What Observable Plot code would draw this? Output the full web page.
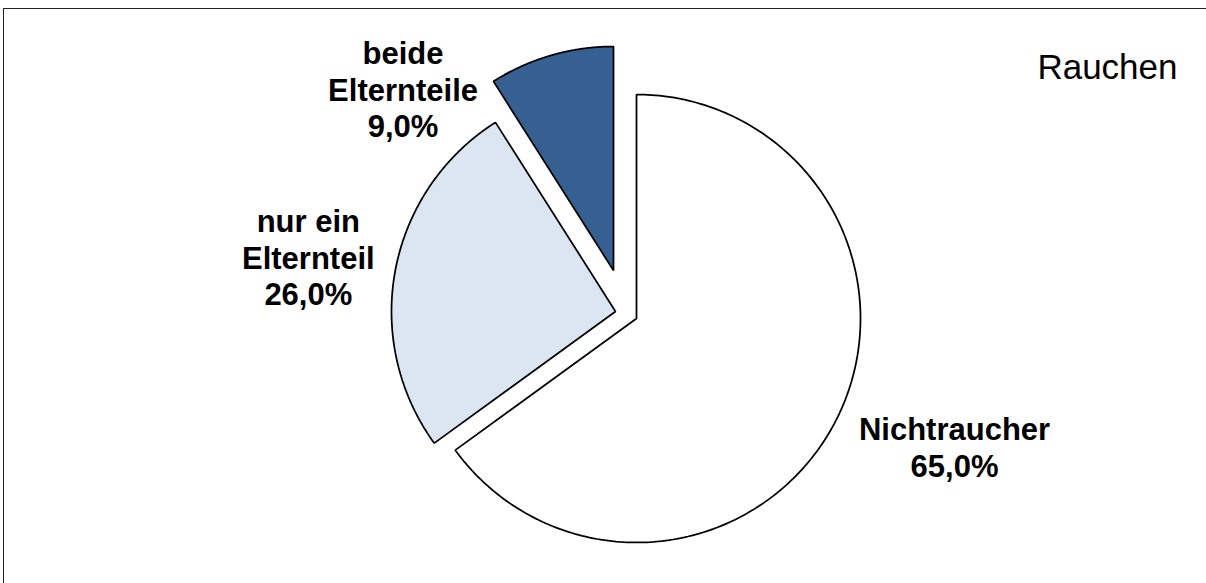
<!DOCTYPE html>
<html><head><meta charset="utf-8">
<script src="https://cdn.jsdelivr.net/npm/d3@7"></script>
<script src="https://cdn.jsdelivr.net/npm/@observablehq/plot@0.6"></script>
<style>
html,body{margin:0;padding:0;background:#fff;overflow:hidden;width:1206px;height:583px}
#frame{position:absolute;left:3px;top:8px;width:1400px;height:800px;border:1px solid #222;box-sizing:border-box}
#chart{position:absolute;left:0;top:0}
</style></head><body>
<div id="frame"></div>
<div id="chart"></div>
<script>
// ---- data ----
const categories = ["Nichtraucher", "nur ein Elternteil", "beide Elternteile"];
const values = [65.0, 26.0, 9.0];
const title = "Rauchen";

// ---- layout / style ----
const W = 1206, H = 583;
const colors = ["#FFFFFF", "#DCE6F2", "#376092"];
const center = [636, 318], R = 224;
const explode = [[0, 0], [-21, -7], [-23, -48]];           // slice offsets (px)
const labelPlace = [{dist: 343, shift: -5}, {dist: 312, shift: -0.7}, {dist: 278, shift: -33}];

const arcs = d3.pie().sort(null).value(d => d)(values);
const rad = Math.PI / 180;

const slices = arcs.map((a, i) => {
  const vx = center[0] + explode[i][0], vy = center[1] + explode[i][1];
  const pts = [{x: vx, y: vy}];
  const n = 240;
  for (let k = 0; k <= n; k++) {
    const t = a.startAngle + (a.endAngle - a.startAngle) * k / n;
    pts.push({x: vx + R * Math.sin(t), y: vy - R * Math.cos(t)});
  }
  return pts;
});

const fmt = v => v.toFixed(1).replace(".", ",") + "%";
const wrap = s => { const j = s.lastIndexOf(" "); return j < 0 ? s : s.slice(0, j) + "\n" + s.slice(j + 1); };

const labels = arcs.map((a, i) => {
  const vx = center[0] + explode[i][0], vy = center[1] + explode[i][1];
  const t = (a.startAngle + a.endAngle) / 2 + labelPlace[i].shift * rad;
  return {
    x: vx + labelPlace[i].dist * Math.sin(t),
    y: vy - labelPlace[i].dist * Math.cos(t),
    text: wrap(categories[i]) + "\n" + fmt(values[i])
  };
});

const plot = Plot.plot({
  width: W, height: H,
  margin: 0,
  x: {type: "identity", axis: null},
  y: {type: "identity", axis: null},
  style: {background: "transparent", fontFamily: "'Liberation Sans', Arial, sans-serif"},
  marks: [
    ...slices.map((pts, i) => Plot.line(pts, {
      x: "x", y: "y", curve: "linear-closed",
      fill: colors[i], stroke: "#000", strokeWidth: 1.75, strokeLinejoin: "miter"
    })),
    Plot.text(labels, {
      x: "x", y: "y", text: "text",
      fontSize: 31, fontWeight: "bold", lineHeight: 1.18,
      textAnchor: "middle", lineAnchor: "middle", fill: "#000"
    }),
    Plot.text([title], {
      frameAnchor: "top-right", dx: -29, dy: 78, lineAnchor: "bottom",
      fontSize: 35, fill: "#000"
    })
  ]
});
document.getElementById("chart").appendChild(plot);
</script>
</body></html>
